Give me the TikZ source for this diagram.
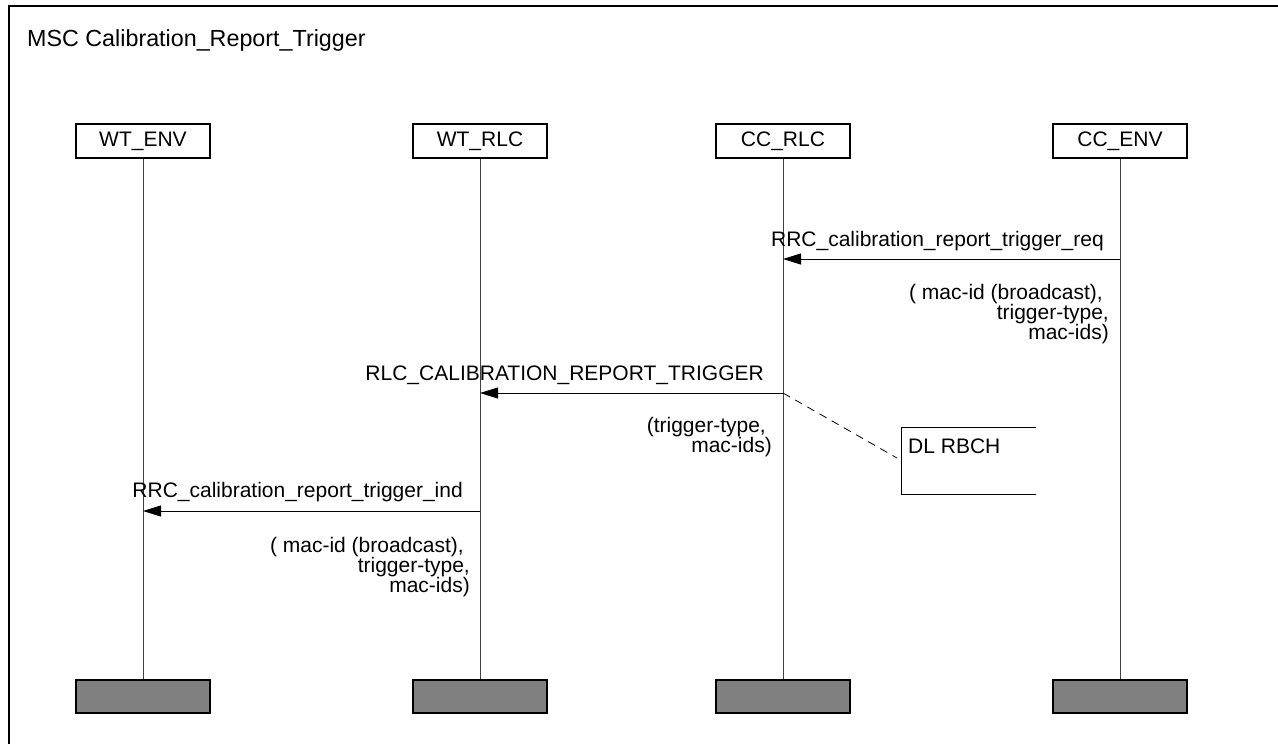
\documentclass[tikz,border=0pt]{standalone}
\usepackage{fontspec}
\setmainfont{Liberation Sans}
\usetikzlibrary{arrows.meta, positioning}

\begin{document}
\begin{tikzpicture}[x=1pt, y=-1pt,
    every node/.style={font=\fontsize{21}{20}\selectfont},
    instance/.style={draw, line width=1.2pt, minimum width=134pt, minimum height=34pt, inner sep=0pt},
    instend/.style={draw, line width=1.2pt, fill=black!50, minimum width=134pt, minimum height=33pt, inner sep=0pt},
    lifeline/.style={draw=black!75, line width=1pt},
    msg/.style={draw, line width=1pt, -{Triangle[length=18pt, width=11pt]}},
    msglabel/.style={anchor=base east, inner sep=0pt},
    params/.style={align=right, anchor=north east, inner sep=0pt}
  ]
  \useasboundingbox (0,0) rectangle (1278,744);
  \clip (0,0) rectangle (1278,744);

  % frame and title
  \draw[line width=1.2pt] (9,6) rectangle (1300,760);
  \node[anchor=base west, inner sep=0pt, font=\fontsize{23.3}{24}\selectfont] (title) at (27,46) {MSC Calibration\_Report\_Trigger};

  % instances
  \node[instance] (wtenv) at (143,141) {WT\_ENV};
  \node[instance] (wtrlc) at (480,141) {WT\_RLC};
  \node[instance] (ccrlc) at (783,141) {CC\_RLC};
  \node[instance] (ccenv) at (1120,141) {CC\_ENV};

  \node[instend] (wtenvend) at (143,696.5) {};
  \node[instend] (wtrlcend) at (480,696.5) {};
  \node[instend] (ccrlcend) at (783,696.5) {};
  \node[instend] (ccenvend) at (1120,696.5) {};

  \draw[lifeline] (wtenv.south) -- (wtenvend.north);
  \draw[lifeline] (wtrlc.south) -- (wtrlcend.north);
  \draw[lifeline] (ccrlc.south) -- (ccrlcend.north);
  \draw[lifeline] (ccenv.south) -- (ccenvend.north);

  % RRC request
  \coordinate (req from) at (ccenv |- 0,259);
  \coordinate (req to) at (ccrlc |- 0,259);
  \draw[msg] (req from) -- (req to);
  \node[msglabel] (reqlabel) at (1104,246) {RRC\_calibration\_report\_trigger\_req};
  \node[params] (reqparams) at (1109,284) {( mac-id (broadcast),\hspace*{6pt}\\ trigger-type,\hspace*{6pt}\\ mac-ids)};

  % RLC trigger
  \coordinate (trig from) at (ccrlc |- 0,393);
  \coordinate (trig to) at (wtrlc |- 0,393);
  \draw[msg] (trig from) -- (trig to);
  \node[msglabel] (triglabel) at (764,380) {RLC\_CALIBRATION\_REPORT\_TRIGGER};
  \node[params] (trigparams) at (772,417) {(trigger-type,\hspace*{6pt}\\ mac-ids)};

  % DL RBCH comment
  \draw[line width=1pt] (1036,427) -- (901,427) -- (901,494) -- (1036,494);
  \node[anchor=base west, inner sep=0pt] (rbch) at (908,453) {DL RBCH};
  \coordinate (rbch in) at (897,458);
  \draw[line width=0.8pt, dash pattern=on 8pt off 6pt] (trig from) -- (rbch in);

  % RRC indication
  \coordinate (ind from) at (wtrlc |- 0,511);
  \coordinate (ind to) at (wtenv |- 0,511);
  \draw[msg] (ind from) -- (ind to);
  \node[msglabel] (indlabel) at (463,497) {RRC\_calibration\_report\_trigger\_ind};
  \node[params] (indparams) at (470,537) {( mac-id (broadcast),\hspace*{6pt}\\ trigger-type,\hspace*{6pt}\\ mac-ids)};
\end{tikzpicture}
\end{document}
